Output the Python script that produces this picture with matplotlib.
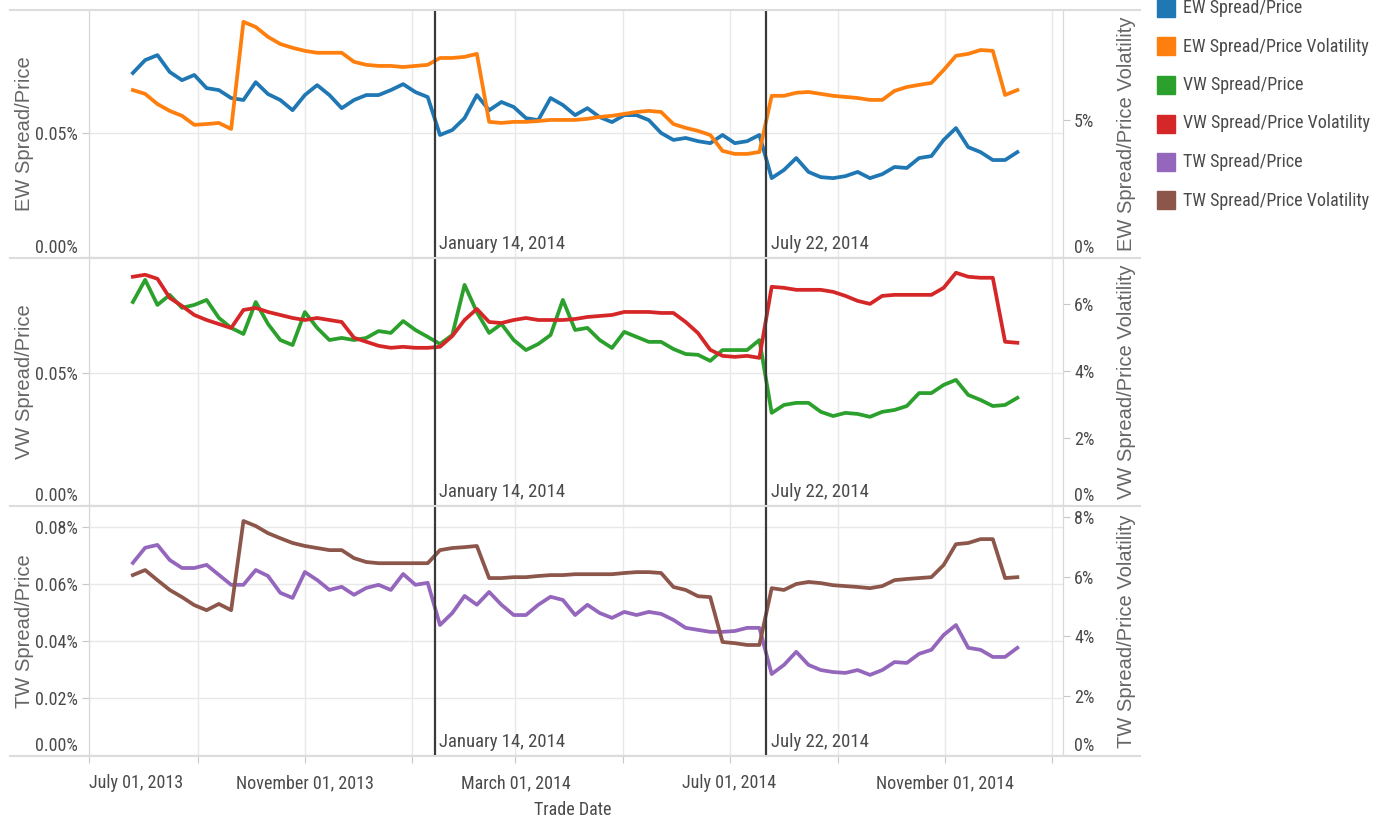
import numpy as np
import pandas as pd
import matplotlib
matplotlib.use('Agg')
import matplotlib.pyplot as plt
from matplotlib import font_manager
from matplotlib.ticker import FuncFormatter
from matplotlib.lines import Line2D
from matplotlib.patches import Rectangle

# narrow font if one is installed, else plain Liberation Sans a bit smaller
avail = {f.name for f in font_manager.fontManager.ttflist}
narrow = next((n for n in ['Liberation Sans Narrow', 'Arial Narrow', 'Roboto Condensed',
                           'Noto Sans Condensed', 'Open Sans Condensed'] if n in avail), None)
if narrow:
    plt.rcParams['font.family'] = [narrow, 'Liberation Sans', 'DejaVu Sans']
    FS = 13
else:
    plt.rcParams['font.family'] = ['Liberation Sans', 'DejaVu Sans']
    FS = 11

# weekly trade dates (Fridays)
trade_dates = pd.date_range('2013-07-26', '2014-12-12', freq='7D')

# spread/price in %, volatility in %
ew_spread = [0.0742, 0.0794, 0.0814, 0.0746, 0.0713, 0.0734, 0.0681, 0.0673, 0.0641, 0.0633,
             0.0705, 0.0657, 0.0633, 0.0592, 0.0653, 0.0693, 0.0653, 0.0600, 0.0633, 0.0653,
             0.0653, 0.0673, 0.0697, 0.0665, 0.0645, 0.0492, 0.0512, 0.0560, 0.0653, 0.0592,
             0.0625, 0.0605, 0.0560, 0.0552, 0.0641, 0.0613, 0.0572, 0.0600, 0.0564, 0.0544,
             0.0572, 0.0572, 0.0552, 0.0500, 0.0472, 0.0480, 0.0467, 0.0459, 0.0492, 0.0459,
             0.0467, 0.0492, 0.0318, 0.0351, 0.0399, 0.0343, 0.0322, 0.0318, 0.0326, 0.0343,
             0.0318, 0.0334, 0.0363, 0.0359, 0.0399, 0.0407, 0.0472, 0.0520, 0.0443, 0.0423,
             0.0391, 0.0391, 0.0423]
ew_vol = [6.09, 5.95, 5.58, 5.33, 5.15, 4.82, 4.85, 4.89, 4.67, 8.58,
          8.39, 8.03, 7.77, 7.63, 7.52, 7.45, 7.45, 7.45, 7.12, 7.01,
          6.97, 6.97, 6.93, 6.97, 7.01, 7.26, 7.26, 7.30, 7.41, 4.93,
          4.89, 4.93, 4.93, 4.96, 5.00, 5.00, 5.00, 5.04, 5.11, 5.15,
          5.22, 5.29, 5.33, 5.29, 4.85, 4.71, 4.60, 4.45, 3.87, 3.76,
          3.76, 3.83, 5.88, 5.88, 5.99, 6.02, 5.95, 5.88, 5.84, 5.80,
          5.73, 5.73, 6.06, 6.20, 6.28, 6.35, 6.82, 7.34, 7.41, 7.55,
          7.52, 5.91, 6.09]
vw_spread = [0.0769, 0.0853, 0.0758, 0.0796, 0.0747, 0.0758, 0.0777, 0.0709, 0.0671, 0.0648,
             0.0769, 0.0686, 0.0625, 0.0606, 0.0731, 0.0671, 0.0625, 0.0633, 0.0625, 0.0633,
             0.0659, 0.0652, 0.0697, 0.0663, 0.0637, 0.0610, 0.0644, 0.0834, 0.0731, 0.0652,
             0.0686, 0.0625, 0.0587, 0.0610, 0.0644, 0.0777, 0.0663, 0.0671, 0.0625, 0.0595,
             0.0656, 0.0637, 0.0618, 0.0618, 0.0591, 0.0572, 0.0569, 0.0546, 0.0587, 0.0587,
             0.0587, 0.0625, 0.0349, 0.0379, 0.0387, 0.0387, 0.0353, 0.0337, 0.0349, 0.0345,
             0.0334, 0.0353, 0.0360, 0.0375, 0.0424, 0.0424, 0.0455, 0.0474, 0.0417, 0.0398,
             0.0375, 0.0379, 0.0406]
vw_vol = [6.81, 6.87, 6.75, 6.18, 5.94, 5.67, 5.52, 5.40, 5.28, 5.82,
          5.88, 5.76, 5.67, 5.58, 5.52, 5.58, 5.52, 5.46, 4.99, 4.87,
          4.75, 4.69, 4.72, 4.69, 4.69, 4.72, 5.04, 5.52, 5.85, 5.46,
          5.43, 5.52, 5.58, 5.52, 5.52, 5.52, 5.55, 5.61, 5.64, 5.67,
          5.76, 5.76, 5.76, 5.73, 5.73, 5.46, 5.13, 4.63, 4.45, 4.42,
          4.45, 4.39, 6.51, 6.48, 6.42, 6.42, 6.42, 6.36, 6.24, 6.09,
          6.00, 6.24, 6.27, 6.27, 6.27, 6.27, 6.48, 6.93, 6.81, 6.78,
          6.78, 4.87, 4.84]
tw_spread = [0.0674, 0.0727, 0.0737, 0.0684, 0.0656, 0.0656, 0.0667, 0.0632, 0.0597, 0.0597,
             0.0649, 0.0628, 0.0569, 0.0551, 0.0642, 0.0614, 0.0579, 0.0590, 0.0562, 0.0586,
             0.0597, 0.0579, 0.0635, 0.0597, 0.0604, 0.0456, 0.0498, 0.0558, 0.0527, 0.0572,
             0.0527, 0.0491, 0.0491, 0.0527, 0.0555, 0.0544, 0.0491, 0.0527, 0.0498, 0.0481,
             0.0502, 0.0491, 0.0502, 0.0495, 0.0474, 0.0446, 0.0439, 0.0432, 0.0432, 0.0435,
             0.0446, 0.0446, 0.0284, 0.0316, 0.0362, 0.0316, 0.0298, 0.0291, 0.0288, 0.0298,
             0.0281, 0.0298, 0.0326, 0.0323, 0.0355, 0.0369, 0.0421, 0.0456, 0.0376, 0.0369,
             0.0344, 0.0344, 0.0376]
tw_vol = [6.05, 6.22, 5.88, 5.55, 5.31, 5.04, 4.87, 5.08, 4.87, 7.87,
          7.70, 7.46, 7.29, 7.13, 7.03, 6.96, 6.89, 6.89, 6.62, 6.49,
          6.45, 6.45, 6.45, 6.45, 6.45, 6.89, 6.96, 6.99, 7.03, 5.95,
          5.95, 5.98, 5.98, 6.02, 6.05, 6.05, 6.08, 6.08, 6.08, 6.08,
          6.12, 6.15, 6.15, 6.12, 5.65, 5.55, 5.34, 5.31, 3.80, 3.76,
          3.70, 3.70, 5.61, 5.55, 5.75, 5.82, 5.78, 5.71, 5.68, 5.65,
          5.61, 5.68, 5.88, 5.92, 5.95, 5.98, 6.39, 7.09, 7.13, 7.26,
          7.26, 5.95, 5.98]

ref_dates = ['2014-01-14', '2014-07-22']
ref_labels = ['January 14, 2014', 'July 22, 2014']

grid_dates = ['2013-07-01', '2013-09-01', '2013-11-01', '2014-01-01', '2014-03-01',
              '2014-05-01', '2014-07-01', '2014-09-01', '2014-11-01', '2015-01-01']
x_labels = ['July 01, 2013', '', 'November 01, 2013', '', 'March 01, 2014', '',
            'July 01, 2014', '', 'November 01, 2014', '']

BLUE, ORANGE, GREEN, RED, PURPLE, BROWN = '#1f77b4', '#ff7f0e', '#2ca02c', '#d62728', '#9467bd', '#8c564b'
TXT = '#4a4a4a'
GRID = '#e8e8e8'

# name, left series, right series, colours, left top, left ticks, right top, right ticks
panels = [
    ('EW', ew_spread, ew_vol, BLUE, ORANGE, 0.0996, [0, 0.05], 9.01, [0, 5]),
    ('VW', vw_spread, vw_vol, GREEN, RED, 0.0932, [0, 0.05], 7.34, [0, 2, 4, 6]),
    ('TW', tw_spread, tw_vol, PURPLE, BROWN, 0.087, [0, 0.02, 0.04, 0.06, 0.08], 8.34, [0, 2, 4, 6, 8]),
]
pane_px = [(10, 257), (259, 505), (507, 755)]

W, H = 1377, 822
fig = plt.figure(figsize=(W / 100, H / 100), dpi=100)


def fx(px):
    return px / W


def fy(py):
    return 1 - py / H


xmin, xmax = pd.Timestamp('2013-07-01'), pd.Timestamp('2015-01-07')
L, R = 89, 1063

for k, (name, left, right, c1, c2, ltop, lticks, rtop, rticks) in enumerate(panels):
    top, bot = pane_px[k]
    ax = fig.add_axes([fx(L), fy(bot), (R - L) / W, (bot - top) / H])
    ax2 = ax.twinx()

    ax.plot(trade_dates, left, color=c1, lw=2.7, solid_joinstyle='round', zorder=3)
    ax2.plot(trade_dates, right, color=c2, lw=2.7, solid_joinstyle='round', zorder=3)

    ax.set_xlim(xmin, xmax)
    ax.set_ylim(0, ltop)
    ax2.set_ylim(0, rtop)
    ax.set_yticks(lticks)
    ax2.set_yticks(rticks)
    ax.yaxis.set_major_formatter(FuncFormatter(lambda v, p: f'{v:.2f}%'))
    ax2.yaxis.set_major_formatter(FuncFormatter(lambda v, p: f'{v:.0f}%'))

    ax.set_xticks(pd.to_datetime(grid_dates))
    ax.grid(True, axis='x', color=GRID, lw=1)
    ax.grid(True, axis='y', color=GRID, lw=1)
    ax.set_axisbelow(True)

    for a in (ax, ax2):
        a.spines['top'].set_visible(False)
        a.spines['bottom'].set_visible(False)
        a.spines['left'].set_color('#d8d8d8')
        a.spines['right'].set_color('#d8d8d8')
        a.tick_params(axis='y', labelsize=FS, labelcolor=TXT, color='#c8c8c8', length=5, pad=3)
    ax.get_yticklabels()[0].set_va('bottom')
    ax2.get_yticklabels()[0].set_va('bottom')

    if k < 2:
        ax.tick_params(axis='x', length=0, labelbottom=False)
    else:
        ax.set_xticklabels(x_labels)
        ax.tick_params(axis='x', labelsize=FS, labelcolor=TXT, color='#c8c8c8', length=6, pad=8)
        ax.get_xticklabels()[0].set_ha('left')

    for d, lab in zip(ref_dates, ref_labels):
        ax2.axvline(pd.Timestamp(d), color='#3a3a3a', lw=1.6, zorder=4)
        ax2.annotate(lab, xy=(pd.Timestamp(d), 0), xycoords=('data', 'axes fraction'),
                     xytext=(3, 3), textcoords='offset points', ha='left', va='bottom',
                     fontsize=FS + 0.5, color=TXT)

    cy = fy((top + bot) / 2)
    fig.text(fx(25), cy, f'{name} Spread/Price', rotation=90, ha='center', va='center',
             fontsize=14.5, color='#666666', family=['Liberation Sans', 'DejaVu Sans'])
    fig.text(fx(1127), cy, f'{name} Spread/Price Volatility', rotation=90, ha='center', va='center',
             fontsize=14.5, color='#666666', family=['Liberation Sans', 'DejaVu Sans'])

# pane separators
for y in [10, 258, 506, 756]:
    fig.add_artist(Line2D([fx(10), fx(1140)], [fy(y), fy(y)], color='#dcdcdc', lw=1.5))

fig.text(fx(573), fy(810), 'Trade Date', ha='center', va='center', fontsize=FS, color=TXT)

# legend
legend_names = ['EW Spread/Price', 'EW Spread/Price Volatility', 'VW Spread/Price',
                'VW Spread/Price Volatility', 'TW Spread/Price', 'TW Spread/Price Volatility']
legend_colors = [BLUE, ORANGE, GREEN, RED, PURPLE, BROWN]
for i, (nm, col) in enumerate(zip(legend_names, legend_colors)):
    cy = 8 + 38.5 * i
    fig.add_artist(Rectangle((fx(1157), fy(cy + 9)), 18 / W, 18 / H, color=col,
                             transform=fig.transFigure))
    fig.text(fx(1183), fy(cy), nm, va='center', ha='left', fontsize=FS, color=TXT)

fig.savefig('out.png', dpi=100)
